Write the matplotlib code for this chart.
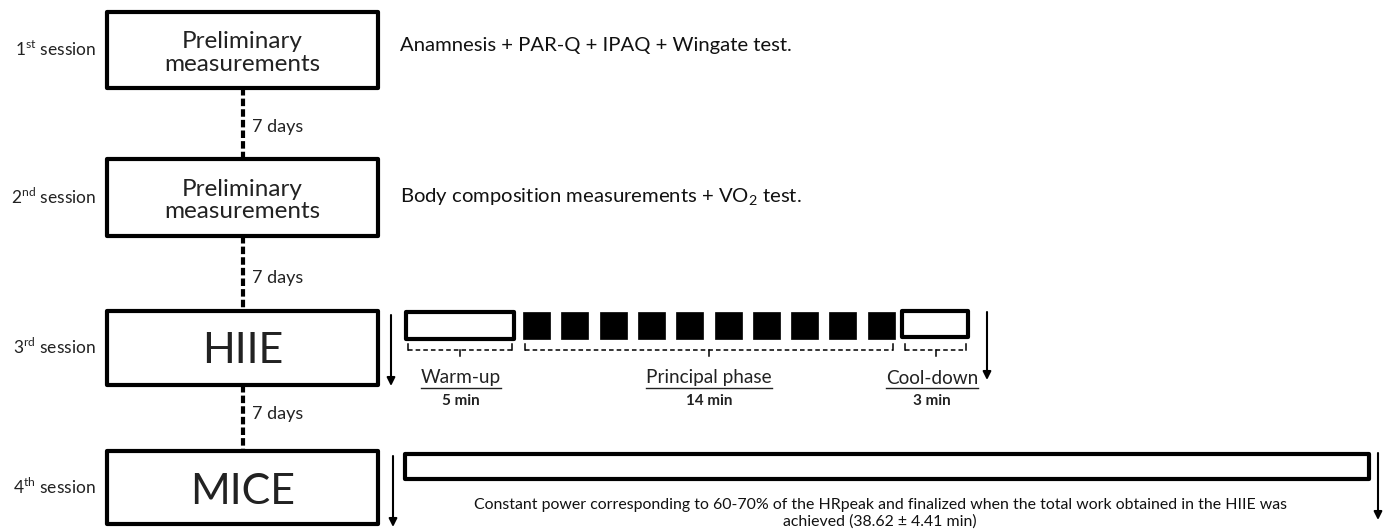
import matplotlib
matplotlib.use('Agg')
import matplotlib.pyplot as plt
from matplotlib.patches import Rectangle

plt.rcParams['font.family'] = ['Lato', 'DejaVu Sans']
plt.rcParams['mathtext.fontset'] = 'custom'
plt.rcParams['mathtext.rm'] = 'Lato'
plt.rcParams['mathtext.bf'] = 'Lato:bold'

# diagram content
sessionNums = ['1', '2', '3', '4']
sessionSups = ['st', 'nd', 'rd', 'th']
boxLabels = ['Preliminary\nmeasurements', 'Preliminary\nmeasurements', 'HIIE', 'MICE']
descriptions = ['Anamnesis + PAR-Q + IPAQ + Wingate test.',
                'Body composition measurements + VO$_{\\mathrm{2}}$ test.']
gapLabel = '7 days'
phaseNames = ['Warm-up', 'Principal phase', 'Cool-down']
phaseMinutes = [5, 14, 3]
nIntervals = 10
miceNote = ('Constant power corresponding to 60-70% of the HRpeak and finalized when the total work obtained in the HIIE was\n'
            'achieved (38.62 \u00b1 4.41 min)')

# layout (pixel space)
W, H = 1390, 530
boxX0, boxX1 = 107, 378
boxTops = [12, 159, 311, 451]
boxBots = [88, 236, 385, 524]
boxFont = [17.5, 17.5, 31, 31]
boxShift = [3, 3, 3, 4]
connX = 243
gapY = [127, 278, 414]

fig = plt.figure(figsize=(W / 100, H / 100), dpi=100)
ax = fig.add_axes([0, 0, 1, 1])
ax.set_xlim(0, W)
ax.set_ylim(H, 0)
ax.axis('off')

for i in range(4):
	top, bot = boxTops[i], boxBots[i]
	cy = (top + bot) / 2
	ax.add_patch(Rectangle((boxX0, top), boxX1 - boxX0, bot - top, fill=False, lw=3, ec='black', joinstyle='round'))
	ax.text((boxX0 + boxX1) / 2, cy + boxShift[i], boxLabels[i], ha='center', va='center', fontsize=boxFont[i],
		linespacing=1.08, color='#222222')
	ax.text(96, cy - 1, sessionNums[i] + '$^{\\mathrm{' + sessionSups[i] + '}}$ session', ha='right', va='center',
		fontsize=12.5, color='#222222')
	if i < len(descriptions):
		ax.text(400, cy - 4 if i == 0 else cy, descriptions[i], ha='left', va='center', fontsize=14.6, color='#111111')
	if i < 3:
		ax.plot([connX, connX], [bot, boxTops[i + 1]], color='black', lw=3, ls=(0, (1.8, 0.75)), solid_capstyle='butt')
		ax.text(252, gapY[i], gapLabel, ha='left', va='center', fontsize=13, color='#222222')


def downArrow(x, y0, y1):
	ax.annotate('', xy=(x, y1), xytext=(x, y0),
		arrowprops=dict(arrowstyle='-|>', lw=1.5, color='black', mutation_scale=12, shrinkA=0, shrinkB=0))


def bracket(x0, x1, y):
	ax.plot([x0, x1], [y, y], color='black', lw=1.1, ls=(0, (3, 2)))
	ax.plot([x0, x0], [y, y - 6], color='black', lw=1.1)
	ax.plot([x1, x1], [y, y - 6], color='black', lw=1.1)
	xm = (x0 + x1) / 2
	ax.plot([xm, xm], [y, y + 6], color='black', lw=1.1)


# HIIE session timeline
phaseY0, phaseY1 = 312, 339
ax.add_patch(Rectangle((406, phaseY0), 108, phaseY1 - phaseY0, fill=False, lw=3, ec='black', joinstyle='round'))
sqX0, sqPitch, sqW = 523, 38.3, 27
for k in range(nIntervals):
	ax.add_patch(Rectangle((sqX0 + k * sqPitch, phaseY0), sqW, phaseY1 - phaseY0, fc='black', ec='black', lw=0.5))
ax.add_patch(Rectangle((902, 311), 66, 26, fill=False, lw=3, ec='black', joinstyle='round'))

bracketSpans = [(408, 512), (525, 893), (905, 966)]
for x0, x1 in bracketSpans:
	bracket(x0, x1, 350)

phaseCentres = [461, 709, 932]
fig.canvas.draw()
renderer = fig.canvas.get_renderer()
inv = ax.transData.inverted()
for name, minutes, xc in zip(phaseNames, phaseMinutes, phaseCentres):
	t = ax.text(xc, 378, name, ha='center', va='center', fontsize=13.7, color='#222222')
	bb = t.get_window_extent(renderer)
	(ux0, uy0), (ux1, uy1) = inv.transform([[bb.x0, bb.y0], [bb.x1, bb.y0]])
	ax.plot([ux0, ux1], [uy0 + 1, uy1 + 1], color='#222222', lw=1)
	ax.text(xc, 401, str(minutes) + ' min', ha='center', va='center', fontsize=11, fontweight='bold', color='#222222')

downArrow(391, 315, 386)
downArrow(987, 312, 380)

# MICE session
ax.add_patch(Rectangle((405, 454), 964, 25, fill=False, lw=3, ec='black', joinstyle='round'))
ax.text(880, 513, miceNote, ha='center', va='center', fontsize=11.4, linespacing=1.2, color='#111111')
downArrow(393, 456, 527)
downArrow(1378, 453, 520)

fig.savefig('out.png', dpi=100, facecolor='white')
